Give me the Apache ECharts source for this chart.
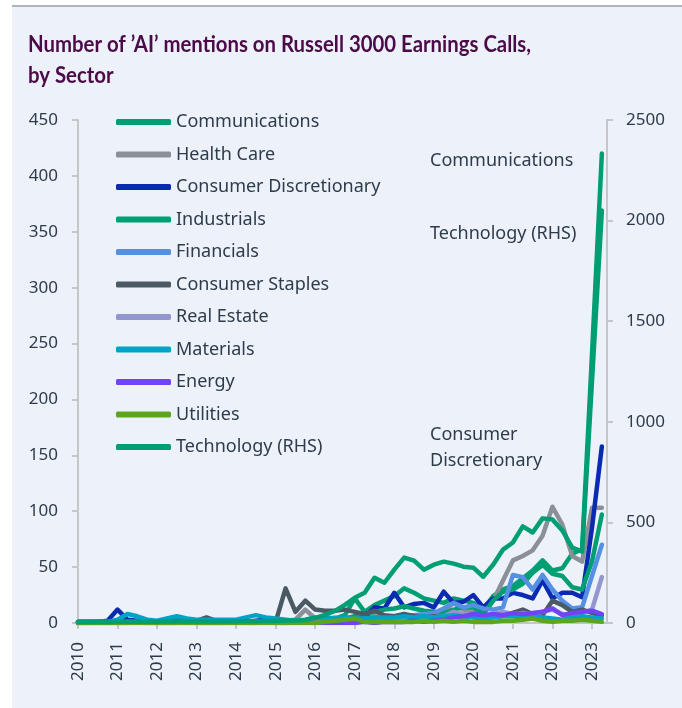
<!DOCTYPE html>
<html><head><meta charset="utf-8">
<script src="https://cdn.jsdelivr.net/npm/echarts@6/dist/echarts.min.js"></script>
<style>
html,body{margin:0;padding:0;background:#fff;}
#panel{position:absolute;left:12px;top:5px;width:670px;height:703px;background:#EDF2FA;border-top:2px solid #AEB4BB;box-sizing:border-box;}
#chart{position:absolute;left:0;top:0;width:682px;height:708px;}
</style></head><body>
<div id="panel"></div><div id="chart"></div>
<script>
const quarters = [
 '2010 Q1','2010 Q2','2010 Q3','2010 Q4','2011 Q1','2011 Q2','2011 Q3','2011 Q4',
 '2012 Q1','2012 Q2','2012 Q3','2012 Q4','2013 Q1','2013 Q2','2013 Q3','2013 Q4',
 '2014 Q1','2014 Q2','2014 Q3','2014 Q4','2015 Q1','2015 Q2','2015 Q3','2015 Q4',
 '2016 Q1','2016 Q2','2016 Q3','2016 Q4','2017 Q1','2017 Q2','2017 Q3','2017 Q4',
 '2018 Q1','2018 Q2','2018 Q3','2018 Q4','2019 Q1','2019 Q2','2019 Q3','2019 Q4',
 '2020 Q1','2020 Q2','2020 Q3','2020 Q4','2021 Q1','2021 Q2','2021 Q3','2021 Q4',
 '2022 Q1','2022 Q2','2022 Q3','2022 Q4','2023 Q1','2023 Q2'
];
const yearTicks = [2010,2011,2012,2013,2014,2015,2016,2017,2018,2019,2020,2021,2022,2023];
const leftTicks = [0,50,100,150,200,250,300,350,400,450];
const rightTicks = [0,500,1000,1500,2000,2500];

const communications = [1,1,1,1, 1,2,1,1, 1,1,2,1, 1,1,1,2, 1,2,1,2, 2,1,2,2, 2,3,4,7,
  22,10,16,20, 24,31,27,22, 20,18,22,20, 18,12,24,30, 33,40,47,56, 47,49,62,66, 240,420];
const healthCare = [0,0,1,0, 1,0,1,1, 0,1,1,0, 1,1,0,1, 1,1,1,1, 1,2,3,12, 4,3,5,4,
  5,4,6,5, 6,5,7,6, 8,10,18,12, 10,8,20,38, 56,60,65,78, 104,88,60,55, 103,103];
const consumerDiscretionary = [1,1,1,2, 12,3,2,1, 1,1,2,1, 1,1,1,1, 1,1,2,3, 2,1,1,1, 1,2,2,3,
  4,5,14,13, 27,14,17,18, 14,28,18,19, 25,14,22,22, 27,25,22,38, 22,27,27,23, 85,158];
const industrials = [1,1,1,1, 1,1,1,1, 1,1,1,1, 1,1,1,1, 1,1,1,1, 1,1,1,1, 1,2,3,4,
  6,8,10,12, 13,15,13,11, 10,9,12,14, 14,8,20,28, 30,35,45,52, 44,42,32,30, 55,97];
const financials = [0,1,1,1, 1,1,1,1, 1,1,1,1, 1,1,1,1, 1,1,1,2, 1,1,2,2, 2,2,3,3,
  3,4,4,5, 6,5,7,8, 9,13,18,14, 16,13,12,14, 43,41,30,43, 30,20,13,14, 42,70];
const consumerStaples = [1,1,1,1, 1,1,1,1, 1,1,1,1, 2,5,2,1, 1,1,1,1, 1,31,10,20, 12,11,11,12,
  10,8,11,7, 6,8,6,5, 6,5,7,6, 7,5,6,8, 9,12,8,7, 20,16,10,12, 9,7];
const realEstate = [0,0,0,0, 0,0,1,0, 0,0,0,1, 0,0,0,0, 1,0,0,1, 0,0,1,1, 1,1,1,2,
  2,2,3,3, 3,4,4,5, 5,6,10,8, 7,6,8,10, 8,9,8,10, 12,8,6,9, 12,41];
const materials = [1,1,1,1, 3,8,6,3, 2,4,6,4, 3,3,3,3, 3,5,7,5, 4,3,2,3, 5,5,4,5,
  4,4,5,5, 5,6,5,6, 5,6,7,6, 5,4,5,6, 6,5,7,5, 4,3,5,6, 5,4];
const energy = [0,0,0,0, 0,0,0,0, 0,0,0,0, 0,0,0,0, 0,0,0,0, 0,0,0,0, 0,0,0,0,
  0,1,0,1, 1,1,2,1, 2,3,5,6, 8,7,8,7, 9,8,9,10, 13,7,9,10, 11,8];
const utilities = [0,0,0,0, 0,0,0,0, 0,0,0,0, 0,0,0,0, 0,0,0,0, 0,0,0,0, 0,1,2,3,
  4,1,1,1, 1,1,1,2, 1,2,1,2, 1,1,1,2, 2,3,4,2, 1,2,2,3, 2,1];
const technologyRHS = [5,5,6,5, 6,8,6,6, 6,7,8,7, 8,8,9,8, 9,10,9,10, 10,12,12,15, 25,40,60,90,
  125,150,225,200, 265,325,310,265, 290,305,295,280, 275,230,290,365, 400,480,450,520, 515,460,375,355, 1200,2050];

const seriesDefs = [
  ['Communications', communications, '#009E73', 0],
  ['Health Care', healthCare, '#8A9196', 0],
  ['Consumer Discretionary', consumerDiscretionary, '#0A2AB2', 0],
  ['Industrials', industrials, '#009E73', 0],
  ['Financials', financials, '#5690E3', 0],
  ['Consumer Staples', consumerStaples, '#4A5963', 0],
  ['Real Estate', realEstate, '#9496CE', 0],
  ['Materials', materials, '#00A3C8', 0],
  ['Energy', energy, '#7143F6', 0],
  ['Utilities', utilities, '#5DA51C', 0],
  ['Technology (RHS)', technologyRHS, '#009E73', 1]
];

const titleLines = ['Number of \u2019AI\u2019 mentions on Russell 3000 Earnings Calls,', 'by Sector'];

function qToX(q){ const p = q.split(' Q'); return +p[0] + (+p[1]-1)/4; }

const TXT = '#2E3B4A';
const FONT = 'Noto Sans';
const TITLE_FONT = 'bold 23px Lato';
const ctx = document.createElement('canvas').getContext('2d');
ctx.font = TITLE_FONT;
const titleScale = 503 / ctx.measureText(titleLines[0]).width;

const chart = echarts.init(document.getElementById('chart'), null, {renderer:'canvas'});
chart.setOption({
  animation:false,
  backgroundColor:'transparent',
  legend:{
    orient:'vertical', left:116, top:112, padding:0,
    icon:'roundRect', itemWidth:55, itemHeight:6, itemGap:12.5,
    textStyle:{fontFamily:FONT, fontSize:18, lineHeight:20, color:TXT},
    data: seriesDefs.map(d=>d[0])
  },
  grid:{left:78, right:75, top:120, bottom:85, containLabel:false},
  xAxis:{
    type:'value', min:2010, max:2023.38,
    axisLine:{show:true, lineStyle:{color:'#C4C6C8', width:2}},
    axisTick:{show:true, customValues:yearTicks, length:6, lineStyle:{color:'#C4C6C8', width:2}},
    axisLabel:{customValues:yearTicks, rotate:90, margin:19, fontFamily:FONT, fontSize:17, color:TXT, formatter:v=>String(v)},
    splitLine:{show:false}
  },
  yAxis:[
    {type:'value', min:leftTicks[0], max:leftTicks[leftTicks.length-1], interval:50, position:'left',
     axisLine:{show:true, lineStyle:{color:'#C4C6C8', width:2}},
     axisTick:{show:true, length:6, lineStyle:{color:'#C4C6C8', width:2}},
     axisLabel:{margin:20, fontFamily:FONT, fontSize:17, color:TXT, formatter:v=>String(v)},
     splitLine:{show:false}},
    {type:'value', min:rightTicks[0], max:rightTicks[rightTicks.length-1], interval:500, position:'right',
     axisLine:{show:true, lineStyle:{color:'#C4C6C8', width:2}},
     axisTick:{show:true, length:6, lineStyle:{color:'#C4C6C8', width:2}},
     axisLabel:{margin:19, fontFamily:FONT, fontSize:17, color:TXT, formatter:v=>String(v)},
     splitLine:{show:false}}
  ],
  graphic:[
    {type:'text', x:28, y:29, scaleX:titleScale, style:{text:titleLines.join('\n'), font:TITLE_FONT, fill:'#4B0A48', lineHeight:31}},
    {type:'text', left:430, top:152, style:{text:'Communications', font:'18px "Noto Sans"', fill:TXT}},
    {type:'text', left:430, top:225, style:{text:'Technology (RHS)', font:'18px "Noto Sans"', fill:TXT}},
    {type:'text', left:430, top:422, style:{text:'Consumer\nDiscretionary', font:'18px "Noto Sans"', fill:TXT, lineHeight:26}}
  ],
  series: seriesDefs.map(d=>({
    name:d[0], type:'line', yAxisIndex:d[3], showSymbol:false, symbol:'none',
    color:d[2],
    lineStyle:{width:4.5, color:d[2], cap:'round', join:'round'},
    emphasis:{disabled:true},
    data: d[1].map((v,i)=>[qToX(quarters[i]), v])
  }))
});
</script>
</body></html>
